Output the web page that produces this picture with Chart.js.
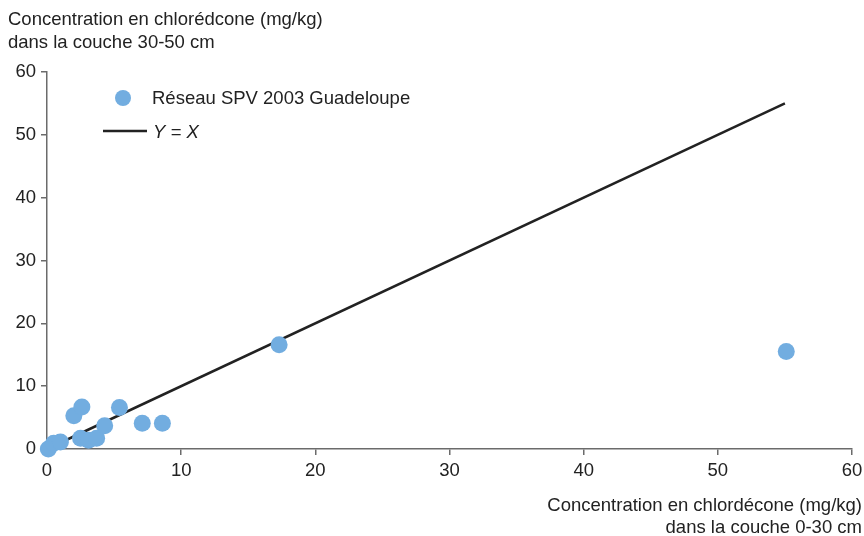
<!DOCTYPE html>
<html>
<head>
<meta charset="utf-8">
<script src="https://cdn.jsdelivr.net/npm/chart.js@4.4.1/dist/chart.umd.min.js"></script>
<style>
  html, body { margin: 0; padding: 0; background: #ffffff; }
  #wrap { position: relative; width: 864px; height: 536px; }
</style>
</head>
<body>
<div id="wrap"><canvas id="c" width="864" height="536"></canvas></div>
<script>
// Chlordécone concentration, 0-30 cm layer (x) vs 30-50 cm layer (y), mg/kg
const topLayer = [0.1, 0.5, 1.0, 2.0, 2.6, 2.5, 3.1, 3.7, 4.3, 5.4, 7.1, 8.6, 17.3, 55.1];
const deepLayer = [0.0, 0.9, 1.1, 5.3, 6.7, 1.7, 1.4, 1.7, 3.7, 6.6, 4.1, 4.1, 16.6, 15.5];
const identityEnds = [0, 55.0];
const axisTicks = [0, 10, 20, 30, 40, 50, 60];

const seriesName = 'Réseau SPV 2003 Guadeloupe';
const lineName = 'Y = X';
const yTitle = ['Concentration en chlorédcone (mg/kg)', 'dans la couche 30-50 cm'];
const xTitle = ['Concentration en chlordécone (mg/kg)', 'dans la couche 0-30 cm'];

const FONT = '"Liberation Sans", Arial, Helvetica, sans-serif';
const FS = 18.5;
const DOT = '#72ade0';
const INK = '#222222';
const AXIS = '#6b6b6b';

const points = topLayer.map((x, i) => ({ x: x, y: deepLayer[i] }));
const identity = identityEnds.map(v => ({ x: v, y: v }));

// Titles and legend drawn as text on the canvas
const annotations = {
  id: 'annotations',
  afterDraw(chart) {
    const ctx = chart.ctx;
    ctx.save();
    ctx.fillStyle = INK;
    ctx.textBaseline = 'alphabetic';
    ctx.font = FS + 'px ' + FONT;
    ctx.textAlign = 'left';
    ctx.fillText(yTitle[0], 8, 25);
    ctx.fillText(yTitle[1], 8, 48);
    ctx.textAlign = 'right';
    ctx.fillText(xTitle[0], 862, 511);
    ctx.fillText(xTitle[1], 862, 533);

    // legend
    ctx.textAlign = 'left';
    ctx.beginPath();
    ctx.arc(123, 98, 8, 0, Math.PI * 2);
    ctx.fillStyle = DOT;
    ctx.fill();
    ctx.fillStyle = INK;
    ctx.fillText(seriesName, 152, 104);
    ctx.beginPath();
    ctx.moveTo(103, 131);
    ctx.lineTo(147, 131);
    ctx.lineWidth = 2.5;
    ctx.strokeStyle = INK;
    ctx.stroke();
    ctx.font = 'italic ' + FS + 'px ' + FONT;
    ctx.fillText(lineName, 153, 138);
    ctx.restore();
  }
};

new Chart(document.getElementById('c'), {
  type: 'scatter',
  data: {
    datasets: [
      {
        label: lineName,
        data: identity,
        showLine: true,
        borderColor: INK,
        borderWidth: 2.5,
        pointRadius: 0,
        clip: false,
        order: 2
      },
      {
        label: seriesName,
        data: points,
        backgroundColor: DOT,
        borderWidth: 0,
        pointRadius: 8.5,
        pointHoverRadius: 8.5,
        clip: false,
        order: 1
      }
    ]
  },
  options: {
    responsive: false,
    animation: false,
    events: [],
    layout: { padding: { top: 72, right: 12, left: 0, bottom: 0 } },
    plugins: { legend: { display: false }, tooltip: { enabled: false } },
    scales: {
      x: {
        type: 'linear',
        min: 0, max: 60,
        afterBuildTicks(s) { s.ticks = axisTicks.map(v => ({ value: v })); },
        afterFit(s) { s.height = 87; s.paddingRight = 0; s.paddingLeft = 0; },
        grid: { display: true, drawOnChartArea: false, drawTicks: true, tickLength: 6, color: AXIS, lineWidth: 1.5 },
        border: { display: true, color: AXIS, width: 1.5 },
        ticks: { color: INK, padding: 5, font: { family: FONT, size: FS }, maxRotation: 0 }
      },
      y: {
        type: 'linear',
        min: 0, max: 60,
        afterBuildTicks(s) { s.ticks = axisTicks.map(v => ({ value: v })); },
        afterFit(s) { s.width = 47; s.paddingTop = 0; s.paddingBottom = 0; },
        grid: { display: true, drawOnChartArea: false, drawTicks: true, tickLength: 6, color: AXIS, lineWidth: 1.5 },
        border: { display: true, color: AXIS, width: 1.5 },
        ticks: { color: INK, padding: 5, font: { family: FONT, size: FS } }
      }
    }
  },
  plugins: [annotations]
});
</script>
</body>
</html>
